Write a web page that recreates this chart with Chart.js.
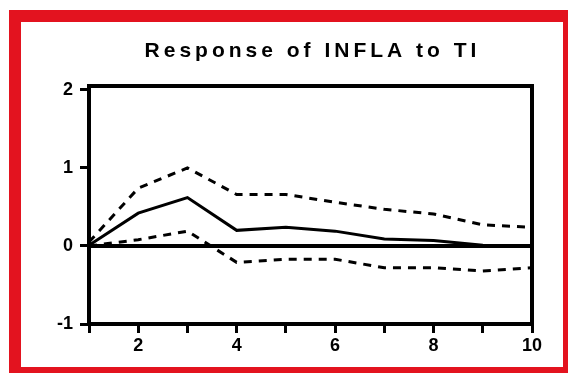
<!DOCTYPE html>
<html>
<head>
<meta charset="utf-8">
<script src="https://cdn.jsdelivr.net/npm/chart.js@4/dist/chart.umd.min.js"></script>
<style>
  html, body { margin: 0; padding: 0; background: #fff; }
  #wrap { position: relative; width: 568px; height: 373px; overflow: hidden; }
  #frame {
    position: absolute; left: 9px; top: 10px; right: 0; bottom: 0;
    border-style: solid; border-color: #e3131f;
    border-width: 12px 5px 6px 12px;
    pointer-events: none;
  }
</style>
</head>
<body>
<div id="wrap">
  <canvas id="irfChart" width="568" height="373"></canvas>
  <div id="frame"></div>
</div>
<script>
// Impulse response of INFLA to a TI shock, with +/- 2 S.E. bands
const periods = [1, 2, 3, 4, 5, 6, 7, 8, 9, 10];
const response = [0.01, 0.42, 0.62, 0.20, 0.24, 0.19, 0.09, 0.07, 0.01, 0.00];
const upperBand = [0.05, 0.74, 1.00, 0.66, 0.66, 0.56, 0.47, 0.41, 0.27, 0.24];
const lowerBand = [0.00, 0.08, 0.19, -0.21, -0.17, -0.17, -0.28, -0.28, -0.32, -0.28];
const yTicks = [-1, 0, 1, 2];
const titleText = 'Response of INFLA to TI';

const toPoints = arr => arr.map((v, i) => ({ x: periods[i], y: v }));

// box around the plot area + spaced-out title
const boxPlugin = {
    id: 'boxPlugin',
    afterDraw(chart) {
        const { ctx, chartArea } = chart;
        ctx.save();
        ctx.strokeStyle = '#000';
        ctx.lineWidth = 4;
        ctx.strokeRect(chartArea.left, chartArea.top,
            chartArea.right - chartArea.left, chartArea.bottom - chartArea.top);

        ctx.font = 'bold 21px "Liberation Sans", Arial, sans-serif';
        ctx.letterSpacing = '4px';
        ctx.fillStyle = '#000';
        ctx.textBaseline = 'middle';
        const w = ctx.measureText(titleText).width - 4;
        const cx = (chartArea.left + chartArea.right) / 2;
        ctx.fillText(titleText, cx - w / 2, 51);
        ctx.restore();
    }
};

const ctx = document.getElementById('irfChart').getContext('2d');
new Chart(ctx, {
    type: 'line',
    data: {
        datasets: [
            {
                label: 'zero',
                data: [{ x: periods[0], y: 0 }, { x: periods[periods.length - 1], y: 0 }],
                borderColor: '#000',
                borderWidth: 4,
                pointRadius: 0
            },
            {
                label: 'response',
                data: toPoints(response),
                borderColor: '#000',
                borderWidth: 3,
                pointRadius: 0,
                tension: 0
            },
            {
                label: 'upper',
                data: toPoints(upperBand),
                borderColor: '#000',
                borderWidth: 3,
                borderDash: [8, 7],
                pointRadius: 0,
                tension: 0
            },
            {
                label: 'lower',
                data: toPoints(lowerBand),
                borderColor: '#000',
                borderWidth: 3,
                borderDash: [8, 7],
                pointRadius: 0,
                tension: 0
            }
        ]
    },
    options: {
        responsive: false,
        animation: false,
        layout: { padding: { left: 0, top: 86, right: 36, bottom: 0 } },
        plugins: {
            legend: { display: false },
            title: { display: false },
            tooltip: { enabled: false }
        },
        scales: {
            x: {
                type: 'linear',
                min: 1,
                max: 10,
                border: { display: false },
                grid: { drawOnChartArea: false, drawTicks: true, tickLength: 9, lineWidth: 3, color: '#000' },
                ticks: {
                    stepSize: 1,
                    autoSkip: false,
                    maxRotation: 0,
                    padding: 2,
                    color: '#000',
                    font: { family: '"Liberation Sans", Arial, sans-serif', size: 18, weight: 'bold' },
                    callback: v => (v % 2 === 0 ? v : '')
                },
                afterFit(scale) { scale.height = 49; }
            },
            y: {
                min: -1,
                max: 2.05,
                border: { display: false },
                grid: { drawOnChartArea: false, drawTicks: true, tickLength: 9, lineWidth: 3, color: '#000' },
                afterBuildTicks(scale) { scale.ticks = yTicks.map(v => ({ value: v })); },
                ticks: {
                    padding: 7,
                    color: '#000',
                    font: { family: '"Liberation Sans", Arial, sans-serif', size: 18, weight: 'bold' },
                    callback: v => v
                },
                afterFit(scale) { scale.width = 89; }
            }
        }
    },
    plugins: [boxPlugin]
});
</script>
</body>
</html>
